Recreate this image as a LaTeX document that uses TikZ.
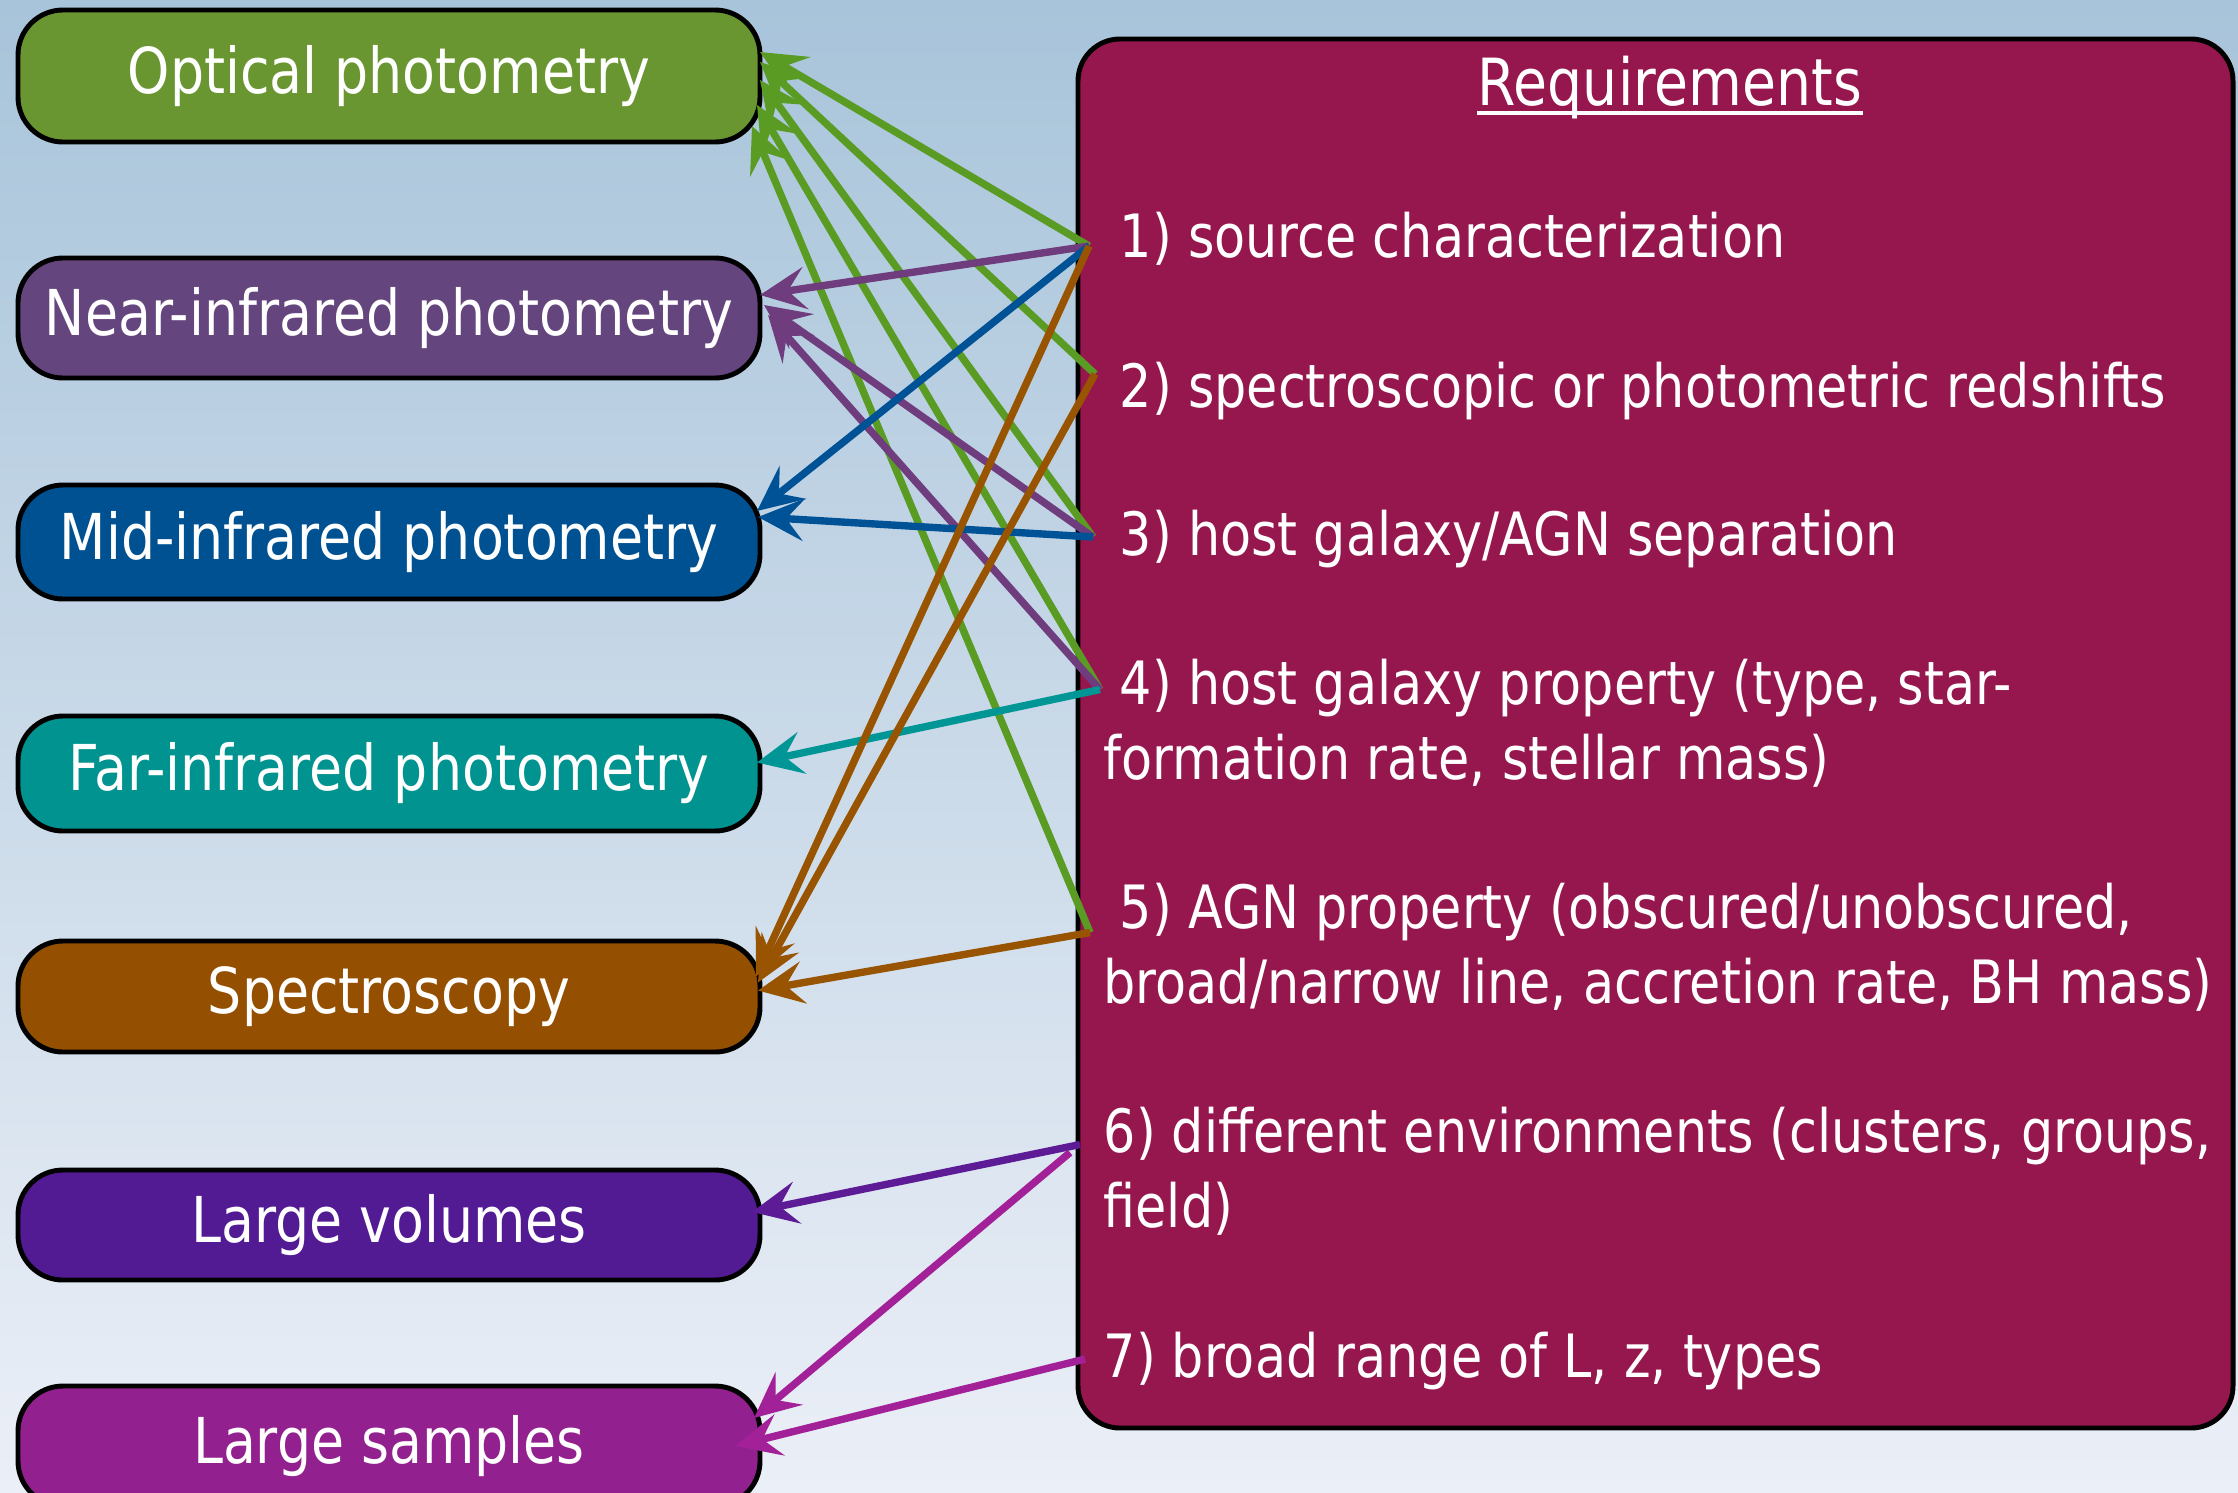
\documentclass[tikz,border=0pt]{standalone}
\usepackage{fontspec}
\setmainfont{DejaVu Sans}[FakeStretch=0.85]
\usetikzlibrary{positioning,arrows.meta}

\definecolor{bgtop}{RGB}{168,196,218}
\definecolor{bgbot}{RGB}{235,239,247}
\definecolor{optfill}{RGB}{106,150,50}
\definecolor{nirfill}{RGB}{101,69,125}
\definecolor{mirfill}{RGB}{0,81,145}
\definecolor{firfill}{RGB}{0,147,143}
\definecolor{specfill}{RGB}{148,80,0}
\definecolor{volfill}{RGB}{82,26,147}
\definecolor{sampfill}{RGB}{147,32,143}
\definecolor{reqfill}{RGB}{150,23,78}
\definecolor{optarr}{RGB}{90,155,35}
\definecolor{nirarr}{RGB}{111,60,126}
\definecolor{mirarr}{RGB}{0,82,150}
\definecolor{firarr}{RGB}{0,150,150}
\definecolor{specarr}{RGB}{152,84,0}
\definecolor{volarr}{RGB}{94,27,150}
\definecolor{samparr}{RGB}{163,33,152}

\tikzset{
  box/.style={draw=black, line width=1.4pt, rounded corners=0.45cm, outer sep=0pt,
    minimum width=7.42cm, text=white, font=\fontsize{18}{22}\selectfont},
  reqbox/.style={draw=black, line width=1.4pt, rounded corners=0.42cm, fill=reqfill},
  item/.style={anchor=base west, inner sep=0pt, align=left, text=white,
    font=\fontsize{17}{21.2}\selectfont},
  link/.style={line width=2.1pt, -{Stealth[length=13pt,width=12pt,inset=5pt]}}
}

\begin{document}
\begin{tikzpicture}
	\useasboundingbox (0,0) rectangle (22.38,-14.92);
	\shade[top color=bgtop, bottom color=bgbot] (0,0) rectangle (22.38,-14.92);
	% Observations on the left
	\node[box, fill=optfill, minimum height=1.32cm] (opt) at (3.89,-0.76) {Optical photometry};
	\node[box, fill=nirfill, minimum height=1.20cm, below=1.16cm of opt] (nir) {Near-infrared photometry};
	\node[box, fill=mirfill, minimum height=1.14cm, below=1.07cm of nir] (mir) {Mid-infrared photometry};
	\node[box, fill=firfill, minimum height=1.15cm, below=1.17cm of mir] (fir) {Far-infrared photometry};
	\node[box, fill=specfill, minimum height=1.11cm, below=1.10cm of fir] (spec) {Spectroscopy};
	\node[box, fill=volfill, minimum height=1.10cm, below=1.18cm of spec] (vol) {Large volumes};
	\node[box, fill=sampfill, minimum height=1.20cm, below=1.06cm of vol] (samp) {Large samples};
	% Requirements on the right
	\node[reqbox, minimum width=11.55cm, minimum height=13.89cm] (req) at (16.555,-7.335) {};
	\node[anchor=base, inner sep=0pt, text=white, font=\fontsize{18.5}{22}\selectfont] (title) at (16.70,-1.05) {Requirements};
	\draw[white, line width=1.2pt] ([yshift=-0.08cm]title.base west) -- ([yshift=-0.08cm]title.base east);
	\node[item] (i1) at (11.03,-2.57) {\ 1) source characterization};
	\node[item] (i2) at (11.03,-4.07) {\ 2) spectroscopic or photometric redshifts};
	\node[item] (i3) at (11.03,-5.55) {\ 3) host galaxy/AGN separation};
	\node[item] (i4) at (11.03,-7.79) {\ 4) host galaxy property (type, star-\\formation rate, stellar mass)};
	\node[item] (i5) at (11.03,-10.03) {\ 5) AGN property (obscured/unobscured,\\broad/narrow line, accretion rate, BH mass)};
	\node[item] (i6) at (11.03,-12.27) {6) different environments (clusters, groups,\\field)};
	\node[item] (i7) at (11.03,-13.77) {7) broad range of L, z, types};
	% Arrow tails
	\coordinate (r1) at ([shift={(-0.14,0.11)}]i1.base west);
	\coordinate (r2) at ([shift={(-0.08,0.33)}]i2.base west);
	\coordinate (r3) at ([shift={(-0.10,0.18)}]i3.base west);
	\coordinate (r4) at ([shift={(-0.03,0.895)}]i4.base west);
	\coordinate (r5) at ([shift={(-0.13,0.705)}]i5.base west);
	\coordinate (r6) at ([shift={(-0.23,0.825)}]i6.base west);
	\coordinate (r7) at ([shift={(-0.18,0.18)}]i7.base west);
	% Connect requirements with observations
	\path[link, optarr]
		(r1) edge ([yshift=0.24cm]opt.east)
		(r2) edge ([yshift=0.14cm]opt.east)
		(r3) edge ([yshift=-0.04cm]opt.east)
		(r4) edge ([xshift=-0.03cm, yshift=-0.29cm]opt.east)
		(r5) edge ([xshift=-0.08cm, yshift=-0.50cm]opt.east);
	\path[link, nirarr]
		(r1) edge ([yshift=0.23cm]nir.east)
		(r3) edge ([xshift=0.04cm, yshift=0.13cm]nir.east)
		(r4) edge ([xshift=0.08cm, yshift=0.03cm]nir.east);
	\path[link, mirarr]
		(r1) edge ([xshift=-0.03cm, yshift=0.31cm]mir.east)
		(r3) edge ([xshift=-0.02cm, yshift=0.25cm]mir.east);
	\path[link, firarr]
		(r4) edge ([xshift=-0.03cm, yshift=0.11cm]fir.east);
	\path[link, specarr]
		(r1) edge ([xshift=-0.04cm, yshift=0.20cm]spec.east)
		(r2) edge ([xshift=-0.02cm, yshift=0.14cm]spec.east)
		(r5) edge ([xshift=-0.02cm, yshift=0.06cm]spec.east);
	\path[link, volarr]
		(r6) edge ([xshift=-0.08cm, yshift=0.13cm]vol.east);
	\path[link, samparr]
		([xshift=-0.1cm, yshift=-0.08cm]r6) edge ([xshift=-0.06cm, yshift=0.28cm]samp.east)
		(r7) edge ([xshift=-0.25cm]samp.east);
\end{tikzpicture}
\end{document}
